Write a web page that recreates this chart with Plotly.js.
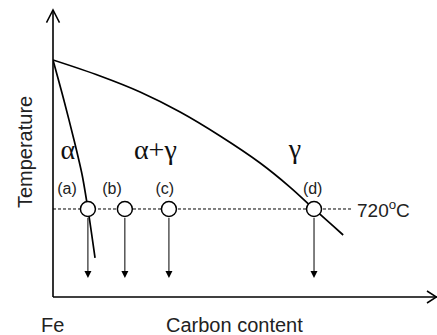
<!DOCTYPE html>
<html>
<head>
<meta charset="utf-8">
<script src="https://cdn.plot.ly/plotly-3.0.1.min.js"></script>
<style>html,body{margin:0;padding:0;background:#fff;}</style>
</head>
<body>
<div id="chart" style="width:437px;height:335px;"></div>
<script>
// Data (carbon content in wt% C, temperature in °C)
const gammaBoundaryC = [0, 0.139, 0.257, 0.375, 0.493, 0.611, 0.699, 0.770, 0.856];
const gammaBoundaryT = [912, 891.4, 870.8, 845.0, 814.1, 779.3, 748.3, 720.0, 686.5];
const alphaBoundaryC = [0, 0.032, 0.062, 0.086, 0.103, 0.124];
const alphaBoundaryT = [912, 860.5, 808.9, 763.8, 720.0, 656.9];
const isothermT = 720;
const isothermC = [0, 0.885];
const pointNames = ['(a)', '(b)', '(c)', '(d)'];
const pointC = [0.103, 0.212, 0.342, 0.770];
const pointLabelC = [0.0413, 0.174, 0.330, 0.766];
const pointLabelT = 744.5;
const coolTo = 631.1;
const phaseNames = ['\u03b1', '\u03b1+\u03b3', '\u03b3'];
const phaseC = [0.044, 0.302, 0.714];
const phaseT = [793.4, 793.4, 795];
const xRange = [0, 1.1328];
const yRange = [606.6, 976.4];

const black = '#000';
const traces = [
  {x: gammaBoundaryC, y: gammaBoundaryT, mode: 'lines', line: {color: black, width: 1.7, shape: 'spline', smoothing: 1}, hoverinfo: 'skip'},
  {x: alphaBoundaryC, y: alphaBoundaryT, mode: 'lines', line: {color: black, width: 1.7, shape: 'spline', smoothing: 0.8}, hoverinfo: 'skip'},
  {x: isothermC, y: isothermC.map(() => isothermT), mode: 'lines', line: {color: black, width: 1, dash: '3px,2px'}, hoverinfo: 'skip'},
  {x: pointC, y: pointC.map(() => isothermT), mode: 'markers', marker: {symbol: 'circle', size: 15, color: '#fff', line: {color: black, width: 1.5}}, hoverinfo: 'skip'},
  {x: pointLabelC, y: pointLabelC.map(() => pointLabelT), mode: 'text', text: pointNames, textposition: 'middle center', textfont: {family: 'Liberation Sans, Arial, sans-serif', size: 16, color: '#222'}, hoverinfo: 'skip'},
  {x: phaseC, y: phaseT, mode: 'text', text: phaseNames, textposition: 'middle center', textfont: {family: 'Liberation Serif, Times New Roman, serif', size: 28, color: '#111'}, hoverinfo: 'skip'}
];

const annotations = pointC.map(c => ({
  x: c, y: coolTo, ax: c, ay: isothermT, xref: 'x', yref: 'y', axref: 'x', ayref: 'y',
  showarrow: true, arrowhead: 2, arrowsize: 1.4, arrowwidth: 1, arrowcolor: black,
  startstandoff: 7.5, text: ''
}));
annotations.push(
  {x: 0.891, y: isothermT, xref: 'x', yref: 'y', xanchor: 'left', yanchor: 'middle', showarrow: false,
   text: '720<sup>o</sup>C', font: {family: 'Liberation Sans, Arial, sans-serif', size: 19, color: '#222'}},
  {x: -0.0729, y: 0.505, xref: 'paper', yref: 'paper', xanchor: 'center', yanchor: 'middle', showarrow: false,
   textangle: -90, text: 'Temperature', font: {family: 'Liberation Sans, Arial, sans-serif', size: 20, color: '#222'}},
  {x: -0.0026, y: -0.0976, xref: 'paper', yref: 'paper', xanchor: 'center', yanchor: 'middle', showarrow: false,
   text: 'Fe', font: {family: 'Liberation Sans, Arial, sans-serif', size: 20, color: '#222'}},
  {x: 0.4727, y: -0.0976, xref: 'paper', yref: 'paper', xanchor: 'center', yanchor: 'middle', showarrow: false,
   text: 'Carbon content', font: {family: 'Liberation Sans, Arial, sans-serif', size: 20, color: '#222'}}
);

const shapes = [
  {type: 'line', xref: 'paper', yref: 'paper', x0: 0, x1: 0, y0: 0, y1: 1, line: {color: black, width: 1.6}},
  {type: 'line', xref: 'paper', yref: 'paper', x0: 0, x1: 1, y0: 0, y1: 0, line: {color: black, width: 1.6}},
  {type: 'path', xref: 'paper', yref: 'paper', xsizemode: 'pixel', ysizemode: 'pixel', xanchor: 0, yanchor: 1,
   path: 'M-6.5,-12.7 L0,0 L6.5,-12.7', line: {color: black, width: 1.5}},
  {type: 'path', xref: 'paper', yref: 'paper', xsizemode: 'pixel', ysizemode: 'pixel', xanchor: 1, yanchor: 0,
   path: 'M-10,6 L-0.5,0 L-10,-6', line: {color: black, width: 1.5}}
];

const layout = {
  width: 437, height: 335,
  margin: {l: 53, r: 0, t: 10, b: 38, pad: 0},
  paper_bgcolor: '#fff', plot_bgcolor: '#fff',
  showlegend: false,
  xaxis: {range: xRange, showgrid: false, zeroline: false, showticklabels: false, ticks: '', showline: false, fixedrange: true},
  yaxis: {range: yRange, showgrid: false, zeroline: false, showticklabels: false, ticks: '', showline: false, fixedrange: true},
  annotations: annotations,
  shapes: shapes
};

Plotly.newPlot('chart', traces, layout, {displayModeBar: false, staticPlot: true});
</script>
</body>
</html>
